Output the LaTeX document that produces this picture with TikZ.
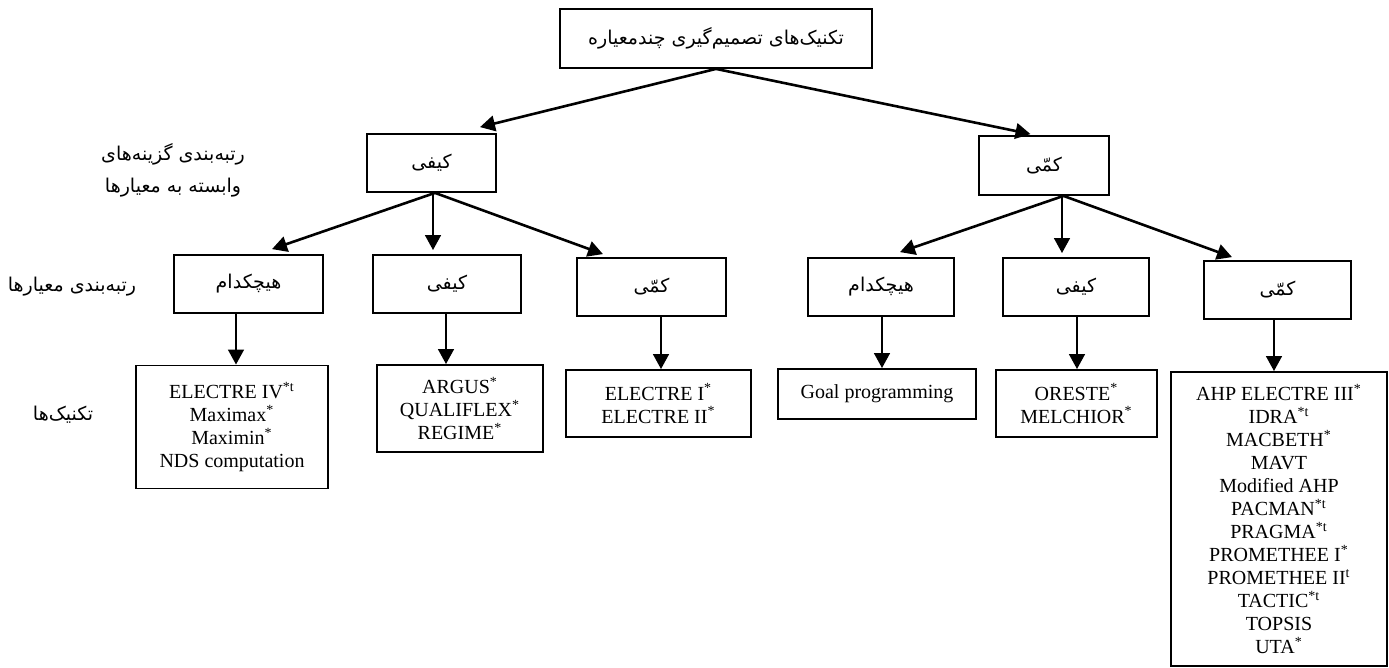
\documentclass[tikz,border=0pt]{standalone}
\usepackage{fontspec}
\setmainfont{Liberation Serif}
\newfontfamily\fa[Script=Arabic]{DejaVu Sans}
\TeXXeTstate=1
\usetikzlibrary{arrows.meta,calc}
\begin{document}
\begin{tikzpicture}[x=0.5pt,y=-0.5pt,
  box/.style={draw,line width=0.9pt,inner sep=0pt,align=center,font=\fontsize{10}{11.5}\selectfont},
  fabox/.style={box,font=\fa\fontsize{9.5}{11}\selectfont},
  fatxt/.style={inner sep=0pt,font=\fa\fontsize{9.5}{11}\selectfont},
  conn/.style={line width=1.3pt,-{Triangle[length=7.5pt,width=7.8pt]}}]
\useasboundingbox (0,0) rectangle (1389,668);
\fill[white] (0,0) rectangle (1389,668);
% top
\node[fabox,minimum width=156pt,minimum height=29.5pt] (top) at (716,38.5) {\beginR تکنیک‌های تصمیم‌گیری چندمعیاره\endR};
% level 1
\node[fabox,minimum width=64.5pt,minimum height=29pt] (L1) at (431.5,163) {\beginR کیفی\endR};
\node[fabox,minimum width=65pt,minimum height=29.5pt] (R1) at (1044,165.5) {\beginR کمّی\endR};
% level 2
\node[fabox,minimum width=74.5pt,minimum height=29pt] (L2a) at (248.5,284) {\beginR هیچکدام\endR};
\node[fabox,minimum width=74pt,minimum height=29pt] (L2b) at (447,284) {\beginR کیفی\endR};
\node[fabox,minimum width=74.5pt,minimum height=29pt] (L2c) at (651.5,287) {\beginR کمّی\endR};
\node[fabox,minimum width=73pt,minimum height=29pt] (R2a) at (881,287) {\beginR هیچکدام\endR};
\node[fabox,minimum width=73pt,minimum height=29pt] (R2b) at (1076,287) {\beginR کیفی\endR};
\node[fabox,minimum width=73.5pt,minimum height=29pt] (R2c) at (1277.5,290) {\beginR کمّی\endR};
% level 3
\node[box,minimum width=96pt,minimum height=61.5pt] (B1) at (232,427) {ELECTRE IV\textsuperscript{*t}\\Maximax\textsuperscript{*}\\Maximin\textsuperscript{*}\\NDS computation};
\node[box,minimum width=83pt,minimum height=43.5pt] (B2) at (460,408.5) {ARGUS\textsuperscript{*}\\QUALIFLEX\textsuperscript{*}\\REGIME\textsuperscript{*}};
\node[box,minimum width=92.5pt,minimum height=33.5pt] (B3) at (658.5,403.5) {ELECTRE I\textsuperscript{*}\\ELECTRE II\textsuperscript{*}};
\node[box,minimum width=99pt,minimum height=25pt] (B4) at (877,394) {Goal programming};
\node[box,minimum width=80.5pt,minimum height=33.5pt] (B5) at (1076.5,403.5) {ORESTE\textsuperscript{*}\\MELCHIOR\textsuperscript{*}};
\node[box,minimum width=108pt,minimum height=147pt] (B6) at (1279,519) {AHP ELECTRE III\textsuperscript{*}\\IDRA\textsuperscript{*t}\\MACBETH\textsuperscript{*}\\MAVT\\Modified AHP\\PACMAN\textsuperscript{*t}\\PRAGMA\textsuperscript{*t}\\PROMETHEE I\textsuperscript{*}\\PROMETHEE II\textsuperscript{t}\\TACTIC\textsuperscript{*t}\\TOPSIS\\UTA\textsuperscript{*}};
% side labels
\node[fatxt] (lab1a) at (173,154) {\beginR رتبه‌بندی گزینه‌های\endR};
\node[fatxt] (lab1b) at (173,188) {\beginR وابسته به معیارها\endR};
\node[fatxt] (lab2) at (72,287) {\beginR رتبه‌بندی معیارها\endR};
\node[fatxt] (lab3) at (63,415) {\beginR تکنیک‌ها\endR};
% connectors
\draw[conn] (top.south) -- ($(L1.north)+(48.5,-6)$);
\draw[conn] (top.south) -- ($(R1.north)+(-13.5,-1)$);
\draw[conn] ($(L1.south)+(3.5,0)$) -- ($(L2a.north)+(23.5,-5)$);
\draw[conn] ($(L1.south)+(1.5,0)$) -- ($(L2b.north)+(-14,-4)$);
\draw[conn] ($(L1.south)+(3.5,0)$) -- ($(L2c.north)+(-48.5,-3)$);
\draw[conn] ($(R1.south)+(19.5,0)$) -- ($(R2a.north)+(19,-5)$);
\draw[conn] ($(R1.south)+(18,0)$) -- ($(R2b.north)+(-14,-4)$);
\draw[conn] ($(R1.south)+(19.5,0)$) -- ($(R2c.north)+(-45.5,-3)$);
\draw[conn] ($(L2a.south)+(-12.5,0)$) -- ($(B1.north)+(4,0)$);
\draw[conn] ($(L2b.south)+(-1,0)$) -- ($(B2.north)+(-14,0)$);
\draw[conn] ($(L2c.south)+(9.5,0)$) -- ($(B3.north)+(2.5,0)$);
\draw[conn] ($(R2a.south)+(1,0)$) -- ($(B4.north)+(5,0)$);
\draw[conn] ($(R2b.south)+(1,0)$) -- ($(B5.north)+(0.5,0)$);
\draw[conn] ($(R2c.south)+(-3.5,0)$) -- ($(B6.north)+(-5,0)$);
\end{tikzpicture}
\end{document}
